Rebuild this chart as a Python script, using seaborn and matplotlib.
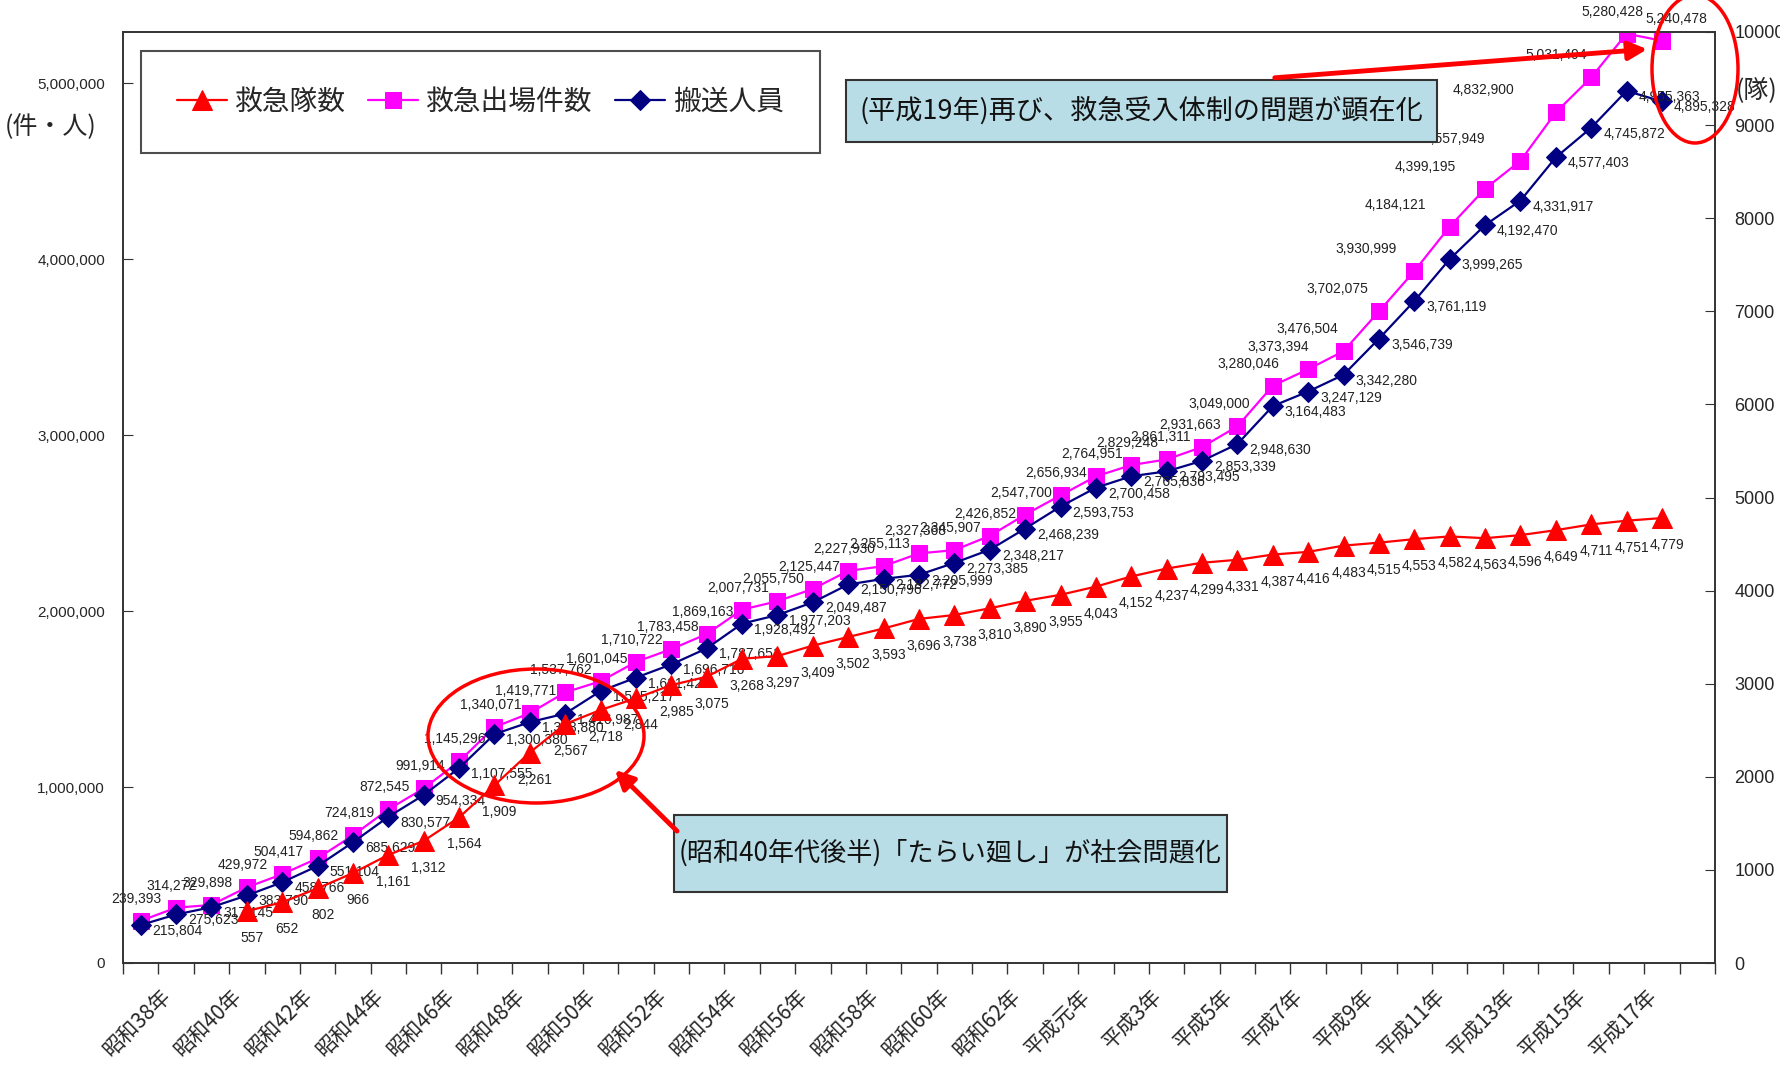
import matplotlib
matplotlib.use("Agg")
import matplotlib.pyplot as plt
import seaborn as sns
from matplotlib import font_manager
from matplotlib.patches import Ellipse, Rectangle, FancyArrowPatch
from matplotlib.ticker import FuncFormatter

# 昭和38年〜平成18年
years = list(range(1963, 2007))
dispatches = [239393, 314272, 329898, 429972, 504417, 594862, 724819, 872545, 991914,
              1145296, 1340071, 1419771, 1537762, 1601045, 1710722, 1783458, 1869163,
              2007731, 2055750, 2125447, 2227930, 2255113, 2327368, 2345907, 2426852,
              2547700, 2656934, 2764951, 2829248, 2861311, 2931663, 3049000, 3280046,
              3373394, 3476504, 3702075, 3930999, 4184121, 4399195, 4557949, 4832900,
              5031494, 5280428, 5240478]
transported = [215804, 275623, 317145, 383790, 458766, 551104, 685629, 830577, 954334,
               1107555, 1300380, 1368880, 1416987, 1545217, 1621422, 1696716, 1787651,
               1928492, 1977203, 2049487, 2150796, 2182772, 2205999, 2273385, 2348217,
               2468239, 2593753, 2700458, 2765836, 2793495, 2853339, 2948630, 3164483,
               3247129, 3342280, 3546739, 3761119, 3999265, 4192470, 4331917, 4577403,
               4745872, 4955363, 4895328]
# 救急隊数 (right axis), from 昭和41年
unit_years = list(range(1966, 2007))
units = [557, 652, 802, 966, 1161, 1312, 1564, 1909, 2261, 2567, 2718, 2844, 2985, 3075,
         3268, 3297, 3409, 3502, 3593, 3696, 3738, 3810, 3890, 3955, 4043, 4152, 4237,
         4299, 4331, 4387, 4416, 4483, 4515, 4553, 4582, 4563, 4596, 4649, 4711, 4751, 4779]

tick_years = list(range(1963, 2006, 2))
tick_labels = ["昭和38年", "昭和40年", "昭和42年", "昭和44年", "昭和46年", "昭和48年",
               "昭和50年", "昭和52年", "昭和54年", "昭和56年", "昭和58年", "昭和60年",
               "昭和62年", "平成元年", "平成3年", "平成5年", "平成7年", "平成9年",
               "平成11年", "平成13年", "平成15年", "平成17年"]

sns.set_style("ticks")
plt.rcParams['font.family'] = ['Noto Sans CJK JP', 'DejaVu Sans']

num_font = 'DejaVu Sans'
for name in ['Liberation Sans', 'Arial']:
    try:
        font_manager.findfont(name, fallback_to_default=False)
        num_font = name
        break
    except Exception:
        pass

W, H = 1781, 1088
fig = plt.figure(figsize=(W / 100, H / 100), dpi=100)
fig.patch.set_facecolor('white')


def fpos(x, y):
    # pixel (from top-left) -> figure fraction
    return x / W, 1 - y / H


ax = fig.add_axes([123 / W, 1 - 963 / H, (1715 - 123) / W, (963 - 32) / H])
ax2 = ax.twinx()

RED, PINK, NAVY = '#ff0000', '#ff00ff', '#000080'

sns.lineplot(x=years, y=dispatches, ax=ax, color=PINK, marker='s', markersize=12,
             markeredgecolor=PINK, linewidth=1.6, label='救急出場件数', legend=False)
sns.lineplot(x=years, y=transported, ax=ax, color=NAVY, marker='D', markersize=10,
             markeredgecolor=NAVY, linewidth=1.6, label='搬送人員', legend=False)
sns.lineplot(x=unit_years, y=units, ax=ax2, color=RED, marker='^', markersize=15,
             markeredgecolor=RED, linewidth=1.6, label='救急隊数', legend=False)

ax.set_xlim(1962.5, 2007.5)
ax.set_ylim(0, 5290000)
ax2.set_ylim(0, 10000)

ax.set_yticks(range(0, 5000001, 1000000))
ax.yaxis.set_major_formatter(FuncFormatter(lambda v, p: f"{int(v):,}"))
ax2.set_yticks(range(0, 10001, 1000))
ax2.yaxis.set_major_formatter(FuncFormatter(lambda v, p: f"{int(v)}"))

# era labels sit a little right of the category centre, as in the original
ax.set_xticks([y + 0.55 for y in tick_years])
ax.set_xticklabels(tick_labels, rotation=45, ha='right', rotation_mode='anchor', fontsize=15)
ax.set_xticks([y + 0.5 for y in range(1962, 2008)], minor=True)
ax.tick_params(axis='x', which='major', length=0, pad=16)
ax.tick_params(axis='x', which='minor', length=8, direction='out', width=1, color='#333333')
ax.tick_params(axis='y', direction='in', length=7, pad=13, labelsize=11, color='#333333')
ax2.tick_params(axis='y', direction='in', length=7, pad=14, labelsize=13, color='#333333')
for lab in ax.get_yticklabels() + ax2.get_yticklabels():
    lab.set_fontfamily(num_font)
ax.set_xlabel('')
ax.set_ylabel('')
ax2.set_ylabel('')

for a in (ax, ax2):
    for sp in a.spines.values():
        sp.set_color('#333333')
        sp.set_linewidth(1.2)

# data labels (offsets in pixels)
def pink_dx(i):
    if i <= 28:
        return -4
    if i <= 40:
        return -(i - 28) * 6
    return [-35, -14, 14][i - 41]


for i, (x, v) in enumerate(zip(years, dispatches)):
    ax.annotate(f"{v:,}", (x, v), xytext=(pink_dx(i), 22), textcoords='offset pixels',
                ha='center', va='center', fontsize=10, family=num_font, color='#222222')
for x, v in zip(years, transported):
    ax.annotate(f"{v:,}", (x, v), xytext=(12, -6), textcoords='offset pixels',
                ha='left', va='center', fontsize=10, family=num_font, color='#222222')
for x, v in zip(unit_years, units):
    ax2.annotate(f"{v:,}", (x, v), xytext=(5, -27), textcoords='offset pixels',
                 ha='center', va='center', fontsize=10, family=num_font, color='#222222')

# legend
h1, l1 = ax.get_legend_handles_labels()
h2, l2 = ax2.get_legend_handles_labels()
leg = ax2.legend(h2 + h1, l2 + l1, ncol=3, loc='upper left', mode='expand',
                 bbox_to_anchor=((141 - 123) / 1592, 1 - (60 - 32) / 931, (820 - 141) / 1592, 0.01),
                 fontsize=20, frameon=True, fancybox=False, borderpad=1.3,
                 handlelength=1.8, handletextpad=0.3, columnspacing=1.0, borderaxespad=0)
leg.get_frame().set_edgecolor('#222222')
leg.get_frame().set_linewidth(1.5)

# axis unit labels
fig.text(*fpos(51, 127), '(件・人)', ha='center', va='center', fontsize=18)
fig.text(*fpos(1757, 91), '(隊)', ha='center', va='center', fontsize=18)

# annotation boxes
BOX = '#b8dde6'
for (x0, y0, x1, y1, txt, fs) in [(846, 80, 1437, 142, '(平成19年)再び、救急受入体制の問題が顕在化', 19.5),
                                  (674, 815, 1227, 892, '(昭和40年代後半)「たらい廻し」が社会問題化', 18.8)]:
    fx, fy = fpos(x0, y1)
    fig.add_artist(Rectangle((fx, fy), (x1 - x0) / W, (y1 - y0) / H, transform=fig.transFigure,
                             facecolor=BOX, edgecolor='#333333', linewidth=1.5, zorder=5))
    fig.text(*fpos((x0 + x1) / 2, (y0 + y1) / 2), txt, ha='center', va='center',
             fontsize=fs, zorder=6, color='#111111')

# red ellipses
for (cx, cy, w, h) in [(536, 736, 216, 134), (1695, 69, 86, 148)]:
    fig.add_artist(Ellipse(fpos(cx, cy), w / W, h / H, transform=fig.transFigure,
                           fill=False, edgecolor=RED, linewidth=2.5, zorder=7))

# red arrows
for (xs, ys, xe, ye) in [(679, 833, 613, 768), (1272, 78, 1650, 49)]:
    fig.add_artist(FancyArrowPatch(fpos(xs, ys), fpos(xe, ye), transform=fig.transFigure,
                                   arrowstyle='-|>', mutation_scale=28, color=RED,
                                   linewidth=3.5, zorder=7))

fig.savefig('out.png', dpi=100, facecolor='white')
